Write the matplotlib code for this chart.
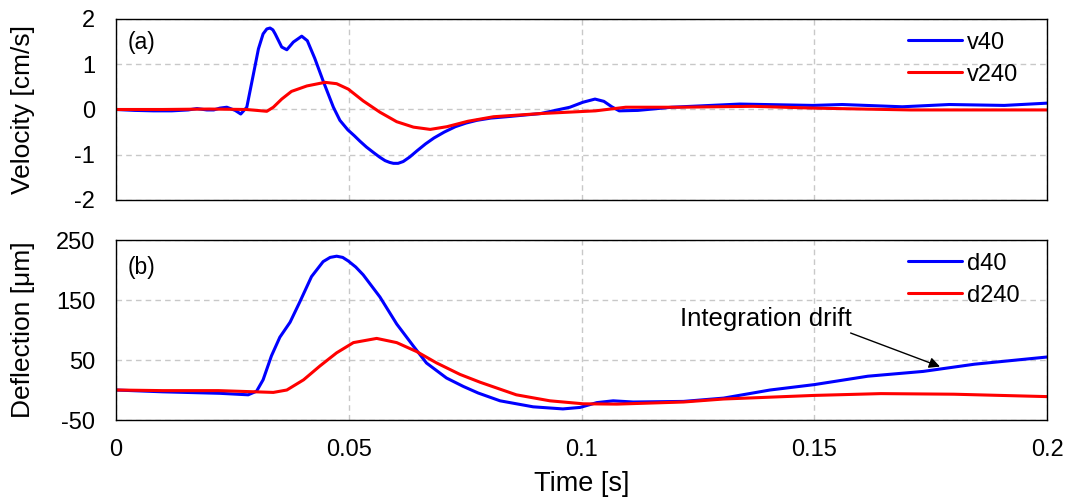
import matplotlib
matplotlib.use('Agg')
import matplotlib.pyplot as plt
from matplotlib.ticker import MultipleLocator, FormatStrFormatter

plt.rcParams['font.family'] = ['Liberation Sans', 'DejaVu Sans']
plt.rcParams['axes.unicode_minus'] = False

# velocity readings (s, cm/s)
t_v40 = [0, 0.004, 0.008, 0.012, 0.0155, 0.0174, 0.0195, 0.021, 0.0223, 0.0238,
         0.0256, 0.0268, 0.0281, 0.0295, 0.0306, 0.0316, 0.0324, 0.0331, 0.0337,
         0.0342, 0.0356, 0.0367, 0.0381, 0.0399, 0.0411, 0.0427, 0.0445, 0.0467,
         0.0481, 0.0498, 0.0512, 0.0524, 0.0538, 0.0553, 0.0566, 0.0578, 0.0588,
         0.0596, 0.0606, 0.0617, 0.0631, 0.0647, 0.0665, 0.0683,
         0.0705, 0.0729, 0.0752, 0.0775, 0.0805, 0.0839, 0.0912, 0.0975, 0.1003,
         0.1029, 0.1048, 0.1065, 0.1081,
         0.1121, 0.1194, 0.134, 0.1497, 0.156, 0.1689, 0.179, 0.1908, 0.200]
v40 = [0, -0.02, -0.03, -0.03, -0.01, 0.02, -0.01, -0.01, 0.03, 0.05,
       -0.02, -0.1, 0.05, 0.77, 1.34, 1.67, 1.78, 1.80, 1.76,
       1.67, 1.38, 1.32, 1.49, 1.62, 1.52, 1.13, 0.63, 0.05,
       -0.24, -0.45, -0.58, -0.70, -0.83, -0.95, -1.05, -1.13, -1.17,
       -1.19, -1.19, -1.15, -1.05, -0.91, -0.76, -0.63,
       -0.50, -0.38, -0.30, -0.24, -0.19, -0.16, -0.09, 0.05, 0.16,
       0.23, 0.18, 0.06, -0.03,
       -0.02, 0.05, 0.12, 0.09, 0.11, 0.06, 0.11, 0.09, 0.14]

t_v240 = [0, 0.01, 0.02, 0.028, 0.0324, 0.0338, 0.0356, 0.0377, 0.041, 0.0449,
          0.0474, 0.0499, 0.0531, 0.0567, 0.0603, 0.0639, 0.0675, 0.0711, 0.0756,
          0.0811, 0.0912, 0.103, 0.1095, 0.121, 0.1368, 0.150, 0.1707, 0.200]
v240 = [0, 0.0, 0.01, 0.0, -0.04, 0.05, 0.23, 0.40, 0.52, 0.60,
        0.57, 0.45, 0.19, -0.06, -0.27, -0.39, -0.44, -0.38, -0.26,
        -0.16, -0.09, -0.03, 0.05, 0.05, 0.07, 0.03, -0.01, -0.01]

# deflection readings (s, um)
t_d40 = [0, 0.01, 0.0223, 0.0284, 0.0302, 0.0316, 0.0334, 0.0352, 0.0374, 0.0395,
         0.042, 0.0445, 0.046, 0.0474, 0.0487, 0.0499, 0.0515, 0.0531, 0.0567,
         0.0603, 0.0639, 0.0667,
         0.071, 0.0746, 0.0778, 0.0825, 0.0896, 0.096, 0.0997, 0.1033, 0.1068,
         0.1111, 0.1219, 0.1305, 0.1405, 0.150, 0.1615, 0.1734, 0.1844, 0.200]
d40 = [0, -3, -5.5, -8, -2, 17, 57, 88, 113, 147,
       189, 214, 221, 223, 221, 215, 205, 192, 155,
       110, 73, 45,
       20, 6, -5, -18, -28, -31.5, -29, -21, -18,
       -20, -19, -13.5, 0, 9, 23, 31, 43, 55]

t_d240 = [0, 0.01, 0.022, 0.0338, 0.0367, 0.0403, 0.0438, 0.0474, 0.051, 0.056,
          0.0603, 0.0646, 0.0689, 0.0739, 0.0782, 0.086, 0.0932, 0.1004, 0.1076,
          0.1219, 0.1305, 0.150, 0.1643, 0.180, 0.200]
d240 = [0, -1, -1, -4, 0, 17, 40, 62, 79, 86,
        79, 64, 45, 26, 13, -8, -18, -23, -23.5,
        -20, -15, -9, -6, -7, -11]

blue = '#0000ff'
red = '#ff0000'

fig = plt.figure(figsize=(10.67, 4.97), dpi=100)
ax1 = fig.add_axes([0.1087, 0.5976, 0.8726, 0.3642])
ax2 = fig.add_axes([0.1087, 0.1549, 0.8726, 0.3622])

for ax in (ax1, ax2):
    ax.set_xlim(0, 0.2)
    ax.xaxis.set_major_locator(MultipleLocator(0.05))
    ax.grid(True, color='#c8c8c8', linestyle=(0, (4, 3)), linewidth=1)
    ax.set_axisbelow(True)
    ax.tick_params(axis='y', length=0, labelsize=17, pad=15)
    ax.tick_params(axis='x', length=0, labelsize=17, pad=14)
    for s in ax.spines.values():
        s.set_linewidth(1.0)
        s.set_color('black')

line_kw = dict(lw=2.2, solid_joinstyle='round', solid_capstyle='round')
leg_kw = dict(loc='upper left', bbox_to_anchor=(0.8507, 0.93), frameon=False,
              fontsize=17, handlelength=2.3, handletextpad=0.2, borderpad=0,
              borderaxespad=0, labelspacing=0.42)

ax1.plot(t_v40, v40, color=blue, label='v40', **line_kw)
ax1.plot(t_v240, v240, color=red, label='v240', **line_kw)
ax1.set_ylim(-2, 2)
ax1.yaxis.set_major_locator(MultipleLocator(1))
ax1.tick_params(labelbottom=False)
ax1.set_ylabel('Velocity [cm/s]', fontsize=19)
ax1.yaxis.set_label_coords(-0.087, 0.5)
ax1.text(0.013, 0.87, '(a)', transform=ax1.transAxes, fontsize=16.5, va='center')
ax1.legend(**leg_kw)

ax2.plot(t_d40, d40, color=blue, label='d40', **line_kw)
ax2.plot(t_d240, d240, color=red, label='d240', **line_kw)
ax2.set_ylim(-50, 250)
ax2.set_yticks([-50, 50, 150, 250])
ax2.xaxis.set_major_formatter(FormatStrFormatter('%g'))
ax2.set_ylabel('Deflection [μm]', fontsize=19)
ax2.yaxis.set_label_coords(-0.087, 0.5)
ax2.set_xlabel('Time [s]', fontsize=19.5)
ax2.xaxis.set_label_coords(0.5, -0.285)
ax2.text(0.013, 0.845, '(b)', transform=ax2.transAxes, fontsize=16.5, va='center')
ax2.legend(**leg_kw)
ax2.text(0.1395, 118, 'Integration drift', ha='center', va='center', fontsize=18.5)
ax2.annotate('', xy=(0.177, 39), xytext=(0.1578, 95),
             arrowprops=dict(arrowstyle='-|>', color='black', lw=1,
                             mutation_scale=16, shrinkA=0, shrinkB=0))

fig.savefig('out.png', dpi=100)
